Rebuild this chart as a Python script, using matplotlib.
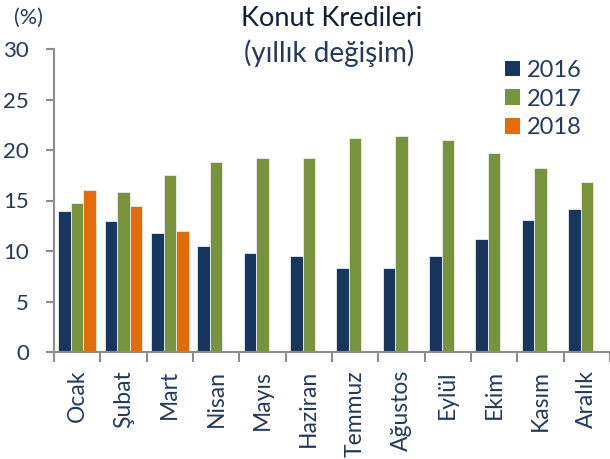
import matplotlib
matplotlib.use("Agg")
import matplotlib.pyplot as plt
import numpy as np

months = ["Ocak", "Şubat", "Mart", "Nisan", "Mayıs", "Haziran", "Temmuz",
          "Ağustos", "Eylül", "Ekim", "Kasım", "Aralık"]
y2016 = [14.0, 13.0, 11.8, 10.5, 9.8, 9.5, 8.3, 8.3, 9.5, 11.2, 13.1, 14.2]
y2017 = [14.8, 15.8, 17.5, 18.8, 19.2, 19.2, 21.2, 21.4, 21.0, 19.7, 18.2, 16.8]
y2018 = [16.0, 14.5, 12.0]
series_labels = ["2016", "2017", "2018"]
colors = ["#17365D", "#77933C", "#E36C09"]
yticks = [0, 5, 10, 15, 20, 25, 30]

plt.rcParams['font.family'] = ['Lato', 'DejaVu Sans']
txt = "#243A5A"

fig = plt.figure(figsize=(6.1, 4.59), dpi=100)
ax = fig.add_axes([54/610, 1-352/459, 556/610, (352-49)/459])

x = np.arange(len(months))
w = 0.27
series = [y2016, y2017, y2018]
handles = []
for i, (vals, lab, c) in enumerate(zip(series, series_labels, colors)):
    xs = x[:len(vals)] + (i - 1) * w
    b = ax.bar(xs, vals, width=w, color=c, edgecolor="#E8ECF0", linewidth=0.6, label=lab)
    handles.append(b)

ax.set_xlim(-0.5, len(months) - 0.5)
ax.set_ylim(0, 30)
ax.set_yticks(yticks)
ax.set_yticklabels([str(t) for t in yticks], fontsize=16, color=txt)
ax.set_xticks(x)
ax.set_xticklabels(months, rotation=90, fontsize=16.5, color=txt, va="top", ha="center")
ax.set_xticks(np.arange(-0.5, len(months) + 0.5, 1), minor=True)
ax.tick_params(axis="x", which="major", length=0, pad=13)
ax.tick_params(axis="x", which="minor", length=7, width=1.5, color="#8C8C8C", direction="out")
ax.tick_params(axis="y", length=6, width=1.5, color="#8C8C8C", pad=12)

for s in ["top", "right"]:
    ax.spines[s].set_visible(False)
for s in ["left", "bottom"]:
    ax.spines[s].set_color("#8C8C8C")
    ax.spines[s].set_linewidth(1.5)

fig.text(332/610, 1-19/459, "Konut Kredileri", ha="center", va="center",
         fontsize=19.5, color="#101E36")
fig.text(329/610, 1-53/459, "(yıllık değişim)", ha="center", va="center",
         fontsize=20, color=txt)
fig.text(28/610, 1-18/459, "(%)", ha="center", va="center", fontsize=15.5, color=txt)

leg = fig.legend(handles=handles, labels=series_labels, loc="upper left",
                 bbox_to_anchor=(493/610, 1-48/459), frameon=False,
                 fontsize=17, handlelength=0.65, handleheight=0.65,
                 handletextpad=0.3, labelspacing=0.33, borderpad=0)
for t in leg.get_texts():
    t.set_color(txt)
for h in leg.legend_handles:
    h.set_edgecolor("none")

fig.savefig("out.png", dpi=100)
